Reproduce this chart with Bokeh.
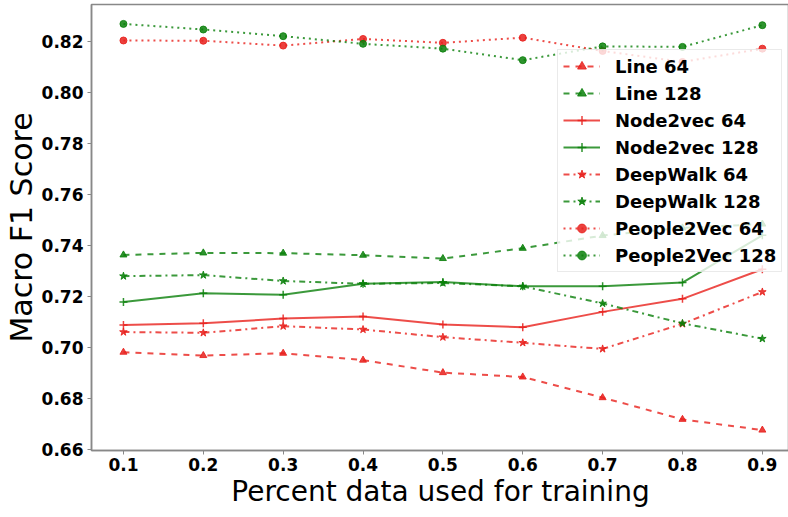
from bokeh.plotting import figure
from bokeh.models import Range1d, FixedTicker, PrintfTickFormatter, Legend, LegendItem
from bokeh.embed import file_html
from bokeh.resources import INLINE

x = [0.1, 0.2, 0.3, 0.4, 0.5, 0.6, 0.7, 0.8, 0.9]

line_64 = [0.6983, 0.6970, 0.6979, 0.6952, 0.6903, 0.6886, 0.6805, 0.6720, 0.6678]
line_128 = [0.7364, 0.7372, 0.7371, 0.7363, 0.7350, 0.7390, 0.7440, 0.7470, 0.7485]
node2vec_64 = [0.7090, 0.7096, 0.7115, 0.7123, 0.7092, 0.7081, 0.7141, 0.7192, 0.7308]
node2vec_128 = [0.7180, 0.7214, 0.7208, 0.7251, 0.7258, 0.7241, 0.7241, 0.7256, 0.7441]
deepwalk_64 = [0.7062, 0.7059, 0.7085, 0.7072, 0.7042, 0.7020, 0.6996, 0.7094, 0.7219]
deepwalk_128 = [0.7281, 0.7285, 0.7262, 0.7251, 0.7254, 0.7241, 0.7174, 0.7096, 0.7036]
people2vec_64 = [0.8204, 0.8203, 0.8184, 0.8210, 0.8195, 0.8215, 0.8163, 0.8120, 0.8172]
people2vec_128 = [0.8269, 0.8247, 0.8221, 0.8191, 0.8172, 0.8127, 0.8181, 0.8179, 0.8264]

y_ticks = [0.66, 0.68, 0.70, 0.72, 0.74, 0.76, 0.78, 0.80, 0.82]
x_ticks = [0.1, 0.2, 0.3, 0.4, 0.5, 0.6, 0.7, 0.8, 0.9]

RED = "#e8201c"
GREEN = "#0a800a"
FONT = "DejaVu Sans"

series = [
    ("Line 64", line_64, RED, "dashed", "triangle", 7),
    ("Line 128", line_128, GREEN, "dashed", "triangle", 7),
    ("Node2vec 64", node2vec_64, RED, "solid", "cross", 8),
    ("Node2vec 128", node2vec_128, GREEN, "solid", "cross", 8),
    ("DeepWalk 64", deepwalk_64, RED, "dashdot", "star", 8),
    ("DeepWalk 128", deepwalk_128, GREEN, "dashdot", "star", 8),
    ("People2Vec 64", people2vec_64, RED, "dotted", "circle", 7),
    ("People2Vec 128", people2vec_128, GREEN, "dotted", "circle", 7),
]

FW, FH = 698, 446

p = figure(frame_width=FW, frame_height=FH, output_backend="svg", toolbar_location=None,
           x_range=Range1d(0.06, 0.934), y_range=Range1d(0.6598, 0.8345),
           min_border_top=4, min_border_right=0, min_border_left=10, min_border_bottom=0)
p.background_fill_color = "white"
p.border_fill_color = "white"
p.outline_line_color = "#888888"
p.outline_line_width = 1.5
p.xgrid.visible = False
p.ygrid.visible = False

items = []
for name, ys, col, dash, marker, sz in series:
    r1 = p.line(x, ys, line_color=col, line_width=2, line_dash=dash, line_alpha=0.8)
    r2 = p.scatter(x, ys, marker=marker, size=sz, fill_color=col, line_color=col,
                   line_width=1.5 if marker == "cross" else 1, alpha=0.85)
    items.append(LegendItem(label=name, renderers=[r1, r2]))

for ax in (p.xaxis[0], p.yaxis[0]):
    ax.axis_line_color = "#888888"
    ax.axis_line_width = 1.5
    ax.major_tick_line_color = "#888888"
    ax.major_tick_out = 4
    ax.major_tick_in = 0
    ax.minor_tick_out = 0
    ax.minor_tick_in = 0
    ax.major_label_text_font = FONT
    ax.major_label_text_font_style = "bold"
    ax.major_label_text_font_size = "17px"
    ax.major_label_text_color = "black"
    ax.axis_label_text_font = FONT
    ax.axis_label_text_font_style = "normal"
    ax.axis_label_text_color = "black"

p.xaxis.ticker = FixedTicker(ticks=x_ticks)
p.yaxis.ticker = FixedTicker(ticks=y_ticks)
p.xaxis.formatter = PrintfTickFormatter(format="%.1f")
p.yaxis.formatter = PrintfTickFormatter(format="%.2f")
p.xaxis.axis_label = "Percent data used for training"
p.yaxis.axis_label = "Macro F1 Score"
p.xaxis.axis_label_text_font_size = "28px"
p.yaxis.axis_label_text_font_size = "30px"
p.xaxis.major_label_standoff = 3
p.yaxis.major_label_standoff = 4
p.xaxis.axis_label_standoff = 1
p.yaxis.axis_label_standoff = 0

leg_h = 2 * 5 + 8 * 22 + 7 * 5
legend = Legend(items=items, location=(FW - 232, FH - 47 - leg_h),
                label_text_font=FONT, label_text_font_style="bold",
                label_text_font_size="18px", label_text_color="black",
                label_height=22, glyph_height=22,
                glyph_width=37, spacing=5, padding=5, label_standoff=15, margin=0,
                border_line_color="#d6d6d6", border_line_width=1,
                background_fill_color="white", background_fill_alpha=0.8)
p.add_layout(legend, "center")

open("out.html", "w").write(file_html(p, INLINE))
